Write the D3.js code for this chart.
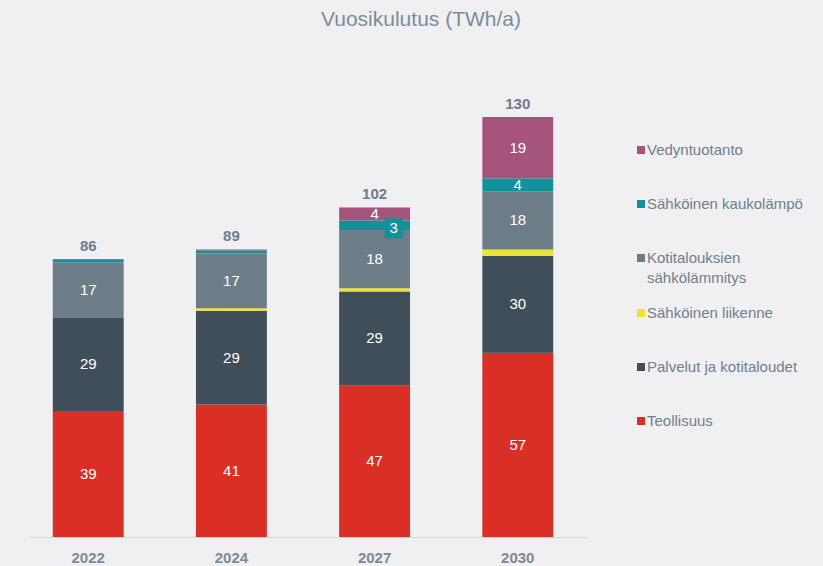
<!doctype html>
<html>
<head>
<meta charset="utf-8">
<script src="https://cdn.jsdelivr.net/npm/d3@7/dist/d3.min.js"></script>
<style>
  body { margin: 0; background: #f0eff1; }
  svg { display: block; font-family: "Liberation Sans Narrow", "Liberation Sans", Arial, sans-serif; }
</style>
</head>
<body>
<svg width="823" height="566"></svg>
<script>
var years = ["2022", "2024", "2027", "2030"];
var seriesNames = ["Teollisuus", "Palvelut ja kotitaloudet", "Sähköinen liikenne",
  "Kotitalouksien sähkölämmitys", "Sähköinen kaukolämpö", "Vedyntuotanto"];
var teollisuus = [39, 41, 47, 57];
var palvelut = [29, 29, 29, 30];
var liikenne = [0, 0.8, 1, 2];
var lammitys = [17, 17, 18, 18];
var kaukolampo = [1, 0.9, 3, 4];
var vety = [0, 0.3, 4, 19];
var totals = [86, 89, 102, 130];
var colors = ["#d92f27", "#3f4e59", "#ece23a", "#6d7d88", "#13919a", "#a5557c"];

var rows = years.map((y, i) => ({
  year: y,
  "Teollisuus": teollisuus[i],
  "Palvelut ja kotitaloudet": palvelut[i],
  "Sähköinen liikenne": liikenne[i],
  "Kotitalouksien sähkölämmitys": lammitys[i],
  "Sähköinen kaukolämpö": kaukolampo[i],
  "Vedyntuotanto": vety[i]
}));

var svg = d3.select("svg");
var baseY = 537;
var x = d3.scaleBand().domain(years).range([17, 589]).paddingInner(0.505).paddingOuter(0.25);
var y = d3.scaleLinear().domain([0, 130]).range([baseY, 117]);
var color = d3.scaleOrdinal().domain(seriesNames).range(colors);

var stacked = d3.stack().keys(seriesNames)(rows);

svg.append("text")
  .attr("x", 421).attr("y", 26)
  .attr("text-anchor", "middle")
  .style("font-size", "21px")
  .style("fill", "#7b8d9b")
  .text("Vuosikulutus (TWh/a)");

// axis line
svg.append("line")
  .attr("x1", 30).attr("x2", 588)
  .attr("y1", baseY + 0.5).attr("y2", baseY + 0.5)
  .style("stroke", "#d4d6d9").style("stroke-width", 1);

var layer = svg.selectAll("g.layer")
  .data(stacked)
  .enter().append("g")
  .attr("class", "layer")
  .style("fill", d => color(d.key));

layer.selectAll("rect")
  .data(d => d.filter(p => p[1] > p[0]))
  .enter().append("rect")
  .attr("x", d => x(d.data.year))
  .attr("width", x.bandwidth())
  .attr("y", d => y(d[1]))
  .attr("height", d => y(d[0]) - y(d[1]));

// value labels inside segments
var labelKeys = ["Teollisuus", "Palvelut ja kotitaloudet", "Kotitalouksien sähkölämmitys", "Sähköinen kaukolämpö", "Vedyntuotanto"];
stacked.filter(s => labelKeys.indexOf(s.key) >= 0).forEach(s => {
  s.forEach(d => {
    var v = d[1] - d[0];
    if (v < 2.5) return;
    var cx = x(d.data.year) + x.bandwidth() / 2;
    var cy = (y(d[0]) + y(d[1])) / 2;
    if (s.key === "Sähköinen kaukolämpö" && v < 3.5) {
      // callout box for small segment
      cx = cx + 19;
      svg.append("rect")
        .attr("x", cx - 9).attr("y", cy - 7)
        .attr("width", 18).attr("height", 20)
        .attr("rx", 2)
        .style("fill", color(s.key));
      cy = cy + 3;
    }
    svg.append("text")
      .attr("x", cx).attr("y", cy + 5)
      .attr("text-anchor", "middle")
      .style("font-size", "15px")
      .style("fill", "#ffffff")
      .text(Math.round(v));
  });
});

// totals
svg.selectAll("text.total")
  .data(years)
  .enter().append("text")
  .attr("class", "total")
  .attr("x", d => x(d) + x.bandwidth() / 2)
  .attr("y", (d, i) => y(totals[i]) - 8)
  .attr("text-anchor", "middle")
  .style("font-size", "15px")
  .style("font-weight", "bold")
  .style("fill", "#6e7d89")
  .text((d, i) => totals[i]);

// year labels
svg.selectAll("text.year")
  .data(years)
  .enter().append("text")
  .attr("class", "year")
  .attr("x", d => x(d) + x.bandwidth() / 2)
  .attr("y", 563)
  .attr("text-anchor", "middle")
  .style("font-size", "15px")
  .style("font-weight", "bold")
  .style("fill", "#7d8b96")
  .text(d => d);

// legend
var legendItems = [
  { key: "Vedyntuotanto", lines: ["Vedyntuotanto"], y: 149 },
  { key: "Sähköinen kaukolämpö", lines: ["Sähköinen kaukolämpö"], y: 203 },
  { key: "Kotitalouksien sähkölämmitys", lines: ["Kotitalouksien", "sähkölämmitys"], y: 257 },
  { key: "Sähköinen liikenne", lines: ["Sähköinen liikenne"], y: 312 },
  { key: "Palvelut ja kotitaloudet", lines: ["Palvelut ja kotitaloudet"], y: 366 },
  { key: "Teollisuus", lines: ["Teollisuus"], y: 420 }
];
var lg = svg.selectAll("g.legend")
  .data(legendItems)
  .enter().append("g")
  .attr("class", "legend")
  .attr("transform", d => "translate(637," + d.y + ")");
lg.append("rect")
  .attr("x", 0).attr("y", -3)
  .attr("width", 8).attr("height", 8)
  .style("fill", d => color(d.key));
lg.each(function(d) {
  var t = d3.select(this).append("text")
    .style("font-size", "15px")
    .style("fill", "#6f808d");
  d.lines.forEach((l, i) => {
    t.append("tspan").attr("x", 10).attr("y", 6 + i * 20).text(l);
  });
});
</script>
</body>
</html>
